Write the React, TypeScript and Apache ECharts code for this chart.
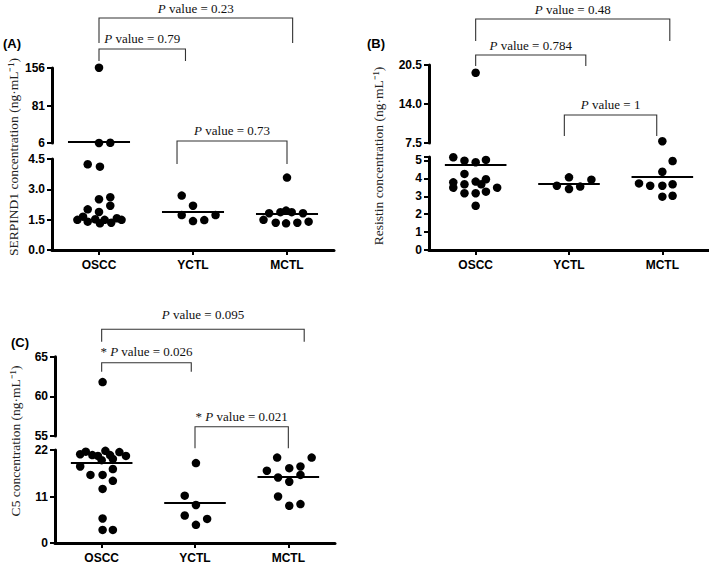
import React, { useEffect, useRef } from "react";
import * as echarts from "echarts";

const categories = ["OSCC", "YCTL", "MCTL"];

// ---------- (A) SERPIND1 (ng·mL⁻¹) ----------
const serpindOSCC = [156.5, 6.1, 6.4, 4.24, 4.12, 2.51, 2.61, 2.19, 2.01, 1.88, 1.49, 1.65, 1.4, 1.52, 1.32, 1.49, 1.35, 1.57, 1.49];
const serpindOSCCJitter = [0, 0, 0.12, -0.12, 0.01, 0, 0.12, 0.12, -0.12, 0, -0.23, -0.17, -0.12, -0.04, 0.01, 0.06, 0.13, 0.19, 0.24];
const serpindYCTL = [2.69, 2.19, 1.73, 1.43, 1.48, 1.73];
const serpindYCTLJitter = [-0.12, 0, -0.12, 0, 0.12, 0.24];
const serpindMCTL = [3.58, 1.49, 1.82, 1.35, 1.87, 1.95, 1.32, 1.87, 1.35, 1.82, 1.4];
const serpindMCTLJitter = [0, -0.25, -0.19, -0.12, -0.07, -0.01, -0.01, 0.05, 0.11, 0.17, 0.23];
const serpindMeans = [8.6, 1.87, 1.78];
const serpindLowerTicks = [0, 1.5, 3, 4.5];
const serpindUpperTicks = [6, 81, 156];
const serpindPValues = ["0.23", "0.79", "0.73"];
const serpindStars = [false, false, false];

// ---------- (B) Resistin (ng·mL⁻¹) ----------
const resistinOSCC = [19.2, 5.18, 4.99, 4.9, 5.03, 4.25, 3.78, 3.48, 3.67, 3.82, 3.67, 3.95, 3.48, 3.17, 3.17, 3.26, 2.47];
const resistinOSCCJitter = [0, -0.24, -0.12, 0, 0.11, -0.12, -0.24, -0.24, -0.12, 0, 0.06, 0.11, 0.23, -0.12, 0, 0.11, 0];
const resistinYCTL = [3.59, 4.06, 3.41, 3.54, 3.93];
const resistinYCTLJitter = [-0.13, 0, 0, 0.12, 0.24];
const resistinMCTL = [7.8, 4.97, 4.37, 3.72, 3.59, 3.59, 3.67, 2.98, 3.03];
const resistinMCTLJitter = [0, 0.11, 0, -0.25, -0.13, 0, 0.11, 0, 0.11];
const resistinMeans = [4.77, 3.69, 4.1];
const resistinLowerTicks = [0, 1, 2, 3, 4, 5];
const resistinUpperTicks = [7.5, 14, 20.5];
const resistinPValues = ["0.48", "0.784", "1"];
const resistinStars = [false, false, false];

// ---------- (C) C5 (ng·mL⁻¹) ----------
const c5OSCC = [61.8, 21.0, 21.6, 20.8, 20.6, 21.8, 20.8, 21.5, 20.6, 19.6, 19.9, 18.1, 16.1, 16.1, 17.5, 14.7, 12.8, 5.8, 3.1, 3.1];
const c5OSCCJitter = [0.01, -0.23, -0.17, -0.1, -0.04, 0.04, 0.09, 0.19, 0.26, 0, 0.12, -0.23, -0.12, 0.01, 0.12, 0.12, 0.01, 0.01, 0.01, 0.12];
const c5YCTL = [18.9, 11.2, 9.0, 6.5, 5.7, 4.3];
const c5YCTLJitter = [0.01, -0.11, 0.01, -0.11, 0.13, 0.01];
const c5MCTL = [20.2, 20.2, 17.1, 17.7, 18.1, 16.1, 15.5, 14.5, 11.0, 8.8, 9.2];
const c5MCTLJitter = [-0.12, 0.25, -0.23, 0.01, 0.13, 0.13, -0.11, 0.01, -0.11, 0.01, 0.13];
const c5Means = [19.1, 9.6, 15.6];
const c5LowerTicks = [0, 11, 22];
const c5UpperTicks = [55, 60, 65];
const c5PValues = ["0.095", "0.026", "0.021"];
const c5Stars = [false, true, true];

// ---------- layout (pixels / category units) ----------
const layoutA = {
  left: 52, width: 282,
  lower: { top: 159, height: 91, max: 4.5, dec: 1 },
  upper: { top: 68, height: 75, dec: 0 },
  label: { text: "(A)", x: 3, y: 43 },
  title: { text: "SERPIND1 concentration (ng·mL⁻¹)", x: 13, y: 157 },
  brackets: [
    { x0: 0, x1: 2.06, top: 18, leg: 43, textY: 8 },
    { x0: 0, x1: 0.92, top: 49, leg: 61, textY: 38 },
    { x0: 0.83, x1: 2, top: 141, leg: 164, textY: 130.5 },
  ],
};
const layoutB = {
  left: 429, width: 280,
  lower: { top: 156.9, height: 93.1, max: 5.2, dec: 0 },
  upper: { top: 65, height: 78, dec: 1 },
  label: { text: "(B)", x: 367, y: 43 },
  title: { text: "Resistin concentration (ng·mL⁻¹)", x: 378, y: 156 },
  brackets: [
    { x0: 0, x1: 2.08, top: 19, leg: 41, textY: 9 },
    { x0: 0, x1: 1.18, top: 55, leg: 66, textY: 45 },
    { x0: 0.95, x1: 1.94, top: 115, leg: 136, textY: 104 },
  ],
};
const layoutC = {
  left: 55, width: 280,
  lower: { top: 450, height: 93.3, max: 22, dec: 0 },
  upper: { top: 356.7, height: 79.3, dec: 0 },
  label: { text: "(C)", x: 11, y: 342 },
  title: { text: "C5 concentration (ng·mL⁻¹)", x: 15, y: 441 },
  brackets: [
    { x0: 0, x1: 2.17, top: 329.3, leg: 341.7, textY: 314.3 },
    { x0: 0, x1: 0.96, top: 362.7, leg: 371.7, textY: 351.7 },
    { x0: 1, x1: 2, top: 426.7, leg: 448.3, textY: 416.7 },
  ],
};

const panels = [
  {
    layout: layoutA,
    groups: [
      { values: serpindOSCC, jitter: serpindOSCCJitter },
      { values: serpindYCTL, jitter: serpindYCTLJitter },
      { values: serpindMCTL, jitter: serpindMCTLJitter },
    ],
    means: serpindMeans, lowerTicks: serpindLowerTicks, upperTicks: serpindUpperTicks,
    pValues: serpindPValues, stars: serpindStars,
  },
  {
    layout: layoutB,
    groups: [
      { values: resistinOSCC, jitter: resistinOSCCJitter },
      { values: resistinYCTL, jitter: resistinYCTLJitter },
      { values: resistinMCTL, jitter: resistinMCTLJitter },
    ],
    means: resistinMeans, lowerTicks: resistinLowerTicks, upperTicks: resistinUpperTicks,
    pValues: resistinPValues, stars: resistinStars,
  },
  {
    layout: layoutC,
    groups: [
      { values: c5OSCC, jitter: c5OSCCJitter },
      { values: c5YCTL, jitter: c5YCTLJitter },
      { values: c5MCTL, jitter: c5MCTLJitter },
    ],
    means: c5Means, lowerTicks: c5LowerTicks, upperTicks: c5UpperTicks,
    pValues: c5PValues, stars: c5Stars,
  },
];

const SANS = '"Liberation Sans", Arial, sans-serif';
const SERIF = '"Liberation Serif", "Times New Roman", serif';
const MEAN_HALF = 0.33;

export default function App() {
  const ref = useRef<HTMLDivElement>(null);

  useEffect(() => {
    const chart = echarts.init(ref.current!, null, { renderer: "svg" });
    const grids: any[] = [];
    const xAxes: any[] = [];
    const yAxes: any[] = [];
    const series: any[] = [];

    panels.forEach((p) => {
      const L = p.layout;
      (["lower", "upper"] as const).forEach((seg) => {
        const isLower = seg === "lower";
        const gi = grids.length;
        const box = isLower ? L.lower : L.upper;
        const ticks = isLower ? p.lowerTicks : p.upperTicks;
        const min = ticks[0];
        const max = isLower ? L.lower.max : ticks[ticks.length - 1];
        const tickMarks = isLower && max > ticks[ticks.length - 1] ? [...ticks, max] : ticks;
        grids.push({ left: L.left, width: L.width, top: box.top, height: box.height });
        xAxes.push({
          type: "value", gridIndex: gi, min: -0.5, max: 2.5, show: isLower,
          axisLine: { show: isLower, onZero: false, lineStyle: { color: "#000", width: 3 } },
          axisTick: { show: isLower, customValues: [0, 1, 2], length: 5, lineStyle: { color: "#000", width: 2 } },
          axisLabel: {
            show: isLower, customValues: [0, 1, 2],
            formatter: (v: number) => categories[Math.round(v)] ?? "",
            fontFamily: SANS, fontWeight: "bold", fontSize: 12, color: "#000", margin: 9,
          },
          splitLine: { show: false },
        });
        yAxes.push({
          type: "value", gridIndex: gi, min, max,
          axisLine: { show: true, onZero: false, lineStyle: { color: "#000", width: 3 } },
          axisTick: { show: true, customValues: tickMarks, length: 5, lineStyle: { color: "#000", width: 2 } },
          axisLabel: {
            customValues: ticks,
            formatter: (v: number) => v.toFixed(box.dec),
            fontFamily: SANS, fontWeight: "bold", fontSize: 12, color: "#000", margin: 7,
          },
          splitLine: { show: false },
        });
        const pts: number[][] = [];
        p.groups.forEach((g, ci) => {
          g.values.forEach((v, k) => {
            const upper = v > L.lower.max;
            if (upper !== isLower) pts.push([ci + g.jitter[k], v]);
          });
        });
        const meanLines: any[] = [];
        p.means.forEach((m, ci) => {
          const upper = m > L.lower.max;
          if (upper !== isLower) {
            meanLines.push([{ coord: [ci - MEAN_HALF, m] }, { coord: [ci + MEAN_HALF, m] }]);
          }
        });
        series.push({
          type: "scatter", xAxisIndex: gi, yAxisIndex: gi, data: pts,
          symbol: "circle", symbolSize: 8.5, itemStyle: { color: "#000", opacity: 1 }, clip: false, silent: true,
          markLine: {
            silent: true, symbol: ["none", "none"], label: { show: false },
            lineStyle: { color: "#000", width: 2, type: "solid", opacity: 1 },
            data: meanLines,
          },
        });
      });
    });

    chart.setOption({
      animation: false,
      backgroundColor: "#fff",
      grid: grids,
      xAxis: xAxes,
      yAxis: yAxes,
      series,
    });

    const elems: any[] = [];
    panels.forEach((p, pi) => {
      const L = p.layout;
      const gi = pi * 2;
      const px = (v: number) => chart.convertToPixel({ xAxisIndex: gi } as any, v) as unknown as number;
      L.brackets.forEach((b, k) => {
        const x0 = px(b.x0);
        const x1 = px(b.x1);
        elems.push({
          type: "polyline", silent: true,
          shape: { points: [[x0, b.leg], [x0, b.top], [x1, b.top], [x1, b.leg]] },
          style: { stroke: "#333", lineWidth: 1.1, fill: "none" },
        });
        const star = p.stars[k] ? "* " : "";
        elems.push({
          type: "text", silent: true, x: (x0 + x1) / 2, y: b.textY,
          style: {
            text: `${star}{i|P} value = ${p.pValues[k]}`,
            fill: "#111", fontFamily: SERIF, fontSize: 13,
            textAlign: "center", textVerticalAlign: "middle",
            rich: { i: { fontStyle: "italic", fontFamily: SERIF, fontSize: 13, fill: "#111" } },
          },
        });
      });
      elems.push({
        type: "text", silent: true, x: L.label.x, y: L.label.y,
        style: {
          text: L.label.text, fill: "#000", fontFamily: SANS, fontWeight: "bold", fontSize: 13,
          textAlign: "left", textVerticalAlign: "middle",
        },
      });
      elems.push({
        type: "text", silent: true, x: L.title.x, y: L.title.y, rotation: Math.PI / 2,
        style: {
          text: L.title.text, fill: "#222", fontFamily: SERIF, fontSize: 13.5,
          textAlign: "center", textVerticalAlign: "middle",
        },
      });
    });
    chart.setOption({ graphic: elems });

    return () => chart.dispose();
  }, []);

  return (
    <div
      ref={ref}
      style={{ position: "fixed", left: 0, top: 0, width: 709, height: 564, background: "#fff" }}
    />
  );
}
